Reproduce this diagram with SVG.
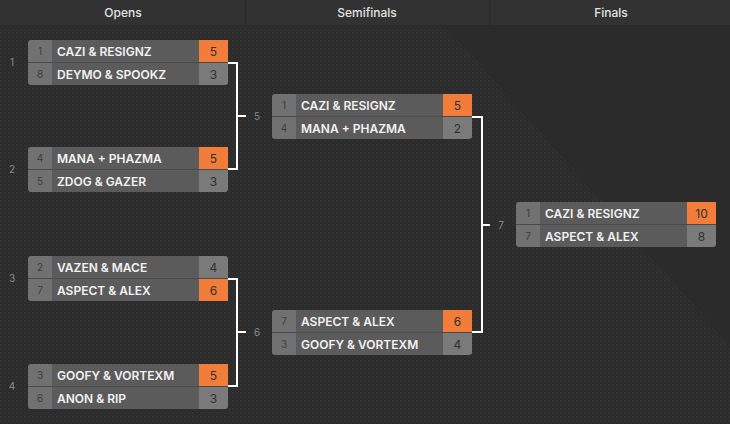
<svg xmlns="http://www.w3.org/2000/svg" width="730" height="424" viewBox="0 0 730 424">
<defs>
<pattern id="dots" width="4" height="4" patternUnits="userSpaceOnUse">
<rect width="4" height="4" fill="#2b2b2b"/>
<rect x="0" y="0" width="2" height="2" fill="#313131"/>
<rect x="2" y="2" width="2" height="2" fill="#2e2e2e"/>
</pattern>
<clipPath id="box"><rect x="0" y="0" width="200" height="45" rx="3"/></clipPath>
<g id="frame">
<g clip-path="url(#box)">
<rect x="0" y="0" width="24" height="45" fill="#717171"/>
<rect x="24" y="0" width="147" height="45" fill="#5b5b5b"/>
<rect x="171" y="0" width="29" height="45" fill="#7a7a7a"/>
<rect x="0" y="22" width="200" height="1" fill="#4a4a4a"/>
</g>
</g>
</defs>
<style>
.hdr{font-family:Inter,"Liberation Sans",sans-serif;font-size:12px;font-weight:500;fill:#e2e2e2;text-anchor:middle}
.seed{font-family:Inter,"Liberation Sans",sans-serif;font-size:10px;fill:#3e3e3e;text-anchor:middle}
.name{font-family:Inter,"Liberation Sans",sans-serif;font-size:12px;font-weight:600;fill:#f2f2f2}
.score{font-family:Inter,"Liberation Sans",sans-serif;font-size:12px;fill:#2f2f2f;text-anchor:middle}
.mlabel{font-family:Inter,"Liberation Sans",sans-serif;font-size:10px;fill:#8a8a8a;text-anchor:middle}
.win{fill:#f27d3a}
.conn{fill:none;stroke:#ffffff;stroke-width:2}
</style>
<rect width="730" height="424" fill="#2b2b2b"/>
<polygon points="0,25 445,25 730,345 730,424 0,424" fill="url(#dots)"/>
<g id="header">
<rect x="0" y="0" width="730" height="25" fill="#323232"/>
<rect x="0" y="25" width="730" height="1" fill="#2a2a2a"/>
<rect x="245" y="0" width="1" height="25" fill="#272727"/>
<rect x="489" y="0" width="1" height="25" fill="#272727"/>
<text class="hdr" x="123" y="17">Opens</text>
<text class="hdr" x="367" y="17">Semifinals</text>
<text class="hdr" x="611" y="17">Finals</text>
</g>
<g id="connectors">
<path class="conn" d="M228,63 H237 V169 H228 M237,116 H246"/>
<path class="conn" d="M228,279 H237 V386 H228 M237,332 H246"/>
<path class="conn" d="M472,117 H482 V332 H472 M482,225 H490"/>
<text class="mlabel" x="257" y="120">5</text>
<text class="mlabel" x="257" y="336">6</text>
<text class="mlabel" x="501" y="229">7</text>
</g>
<g id="m1" transform="translate(28,40)">
<use href="#frame"/>
<rect class="win" x="171" y="0" width="29" height="22" rx="0"/>
<text class="mlabel" x="-16" y="26">1</text>
<text class="seed" x="12" y="15">1</text><text class="name" x="29" y="16">CAZI &amp; RESIGNZ</text><text class="score" x="185.5" y="16">5</text>
<text class="seed" x="12" y="38">8</text><text class="name" x="29" y="39">DEYMO &amp; SPOOKZ</text><text class="score" x="185.5" y="39">3</text>
</g>
<g id="m2" transform="translate(28,147)">
<use href="#frame"/>
<rect class="win" x="171" y="0" width="29" height="22"/>
<text class="mlabel" x="-16" y="26">2</text>
<text class="seed" x="12" y="15">4</text><text class="name" x="29" y="16">MANA + PHAZMA</text><text class="score" x="185.5" y="16">5</text>
<text class="seed" x="12" y="38">5</text><text class="name" x="29" y="39">ZDOG &amp; GAZER</text><text class="score" x="185.5" y="39">3</text>
</g>
<g id="m3" transform="translate(28,256)">
<use href="#frame"/>
<rect class="win" x="171" y="23" width="29" height="22"/>
<text class="mlabel" x="-16" y="26">3</text>
<text class="seed" x="12" y="15">2</text><text class="name" x="29" y="16">VAZEN &amp; MACE</text><text class="score" x="185.5" y="16">4</text>
<text class="seed" x="12" y="38">7</text><text class="name" x="29" y="39">ASPECT &amp; ALEX</text><text class="score" x="185.5" y="39">6</text>
</g>
<g id="m4" transform="translate(28,364)">
<use href="#frame"/>
<rect class="win" x="171" y="0" width="29" height="22"/>
<text class="mlabel" x="-16" y="26">4</text>
<text class="seed" x="12" y="15">3</text><text class="name" x="29" y="16">GOOFY &amp; VORTEXM</text><text class="score" x="185.5" y="16">5</text>
<text class="seed" x="12" y="38">6</text><text class="name" x="29" y="39">ANON &amp; RIP</text><text class="score" x="185.5" y="39">3</text>
</g>
<g id="m5" transform="translate(272,94)">
<use href="#frame"/>
<rect class="win" x="171" y="0" width="29" height="22"/>
<text class="seed" x="12" y="15">1</text><text class="name" x="29" y="16">CAZI &amp; RESIGNZ</text><text class="score" x="185.5" y="16">5</text>
<text class="seed" x="12" y="38">4</text><text class="name" x="29" y="39">MANA + PHAZMA</text><text class="score" x="185.5" y="39">2</text>
</g>
<g id="m6" transform="translate(272,310)">
<use href="#frame"/>
<rect class="win" x="171" y="0" width="29" height="22"/>
<text class="seed" x="12" y="15">7</text><text class="name" x="29" y="16">ASPECT &amp; ALEX</text><text class="score" x="185.5" y="16">6</text>
<text class="seed" x="12" y="38">3</text><text class="name" x="29" y="39">GOOFY &amp; VORTEXM</text><text class="score" x="185.5" y="39">4</text>
</g>
<g id="m7" transform="translate(516,202)">
<use href="#frame"/>
<rect class="win" x="171" y="0" width="29" height="22"/>
<text class="seed" x="12" y="15">1</text><text class="name" x="29" y="16">CAZI &amp; RESIGNZ</text><text class="score" x="185.5" y="16">10</text>
<text class="seed" x="12" y="38">7</text><text class="name" x="29" y="39">ASPECT &amp; ALEX</text><text class="score" x="185.5" y="39">8</text>
</g>
</svg>
